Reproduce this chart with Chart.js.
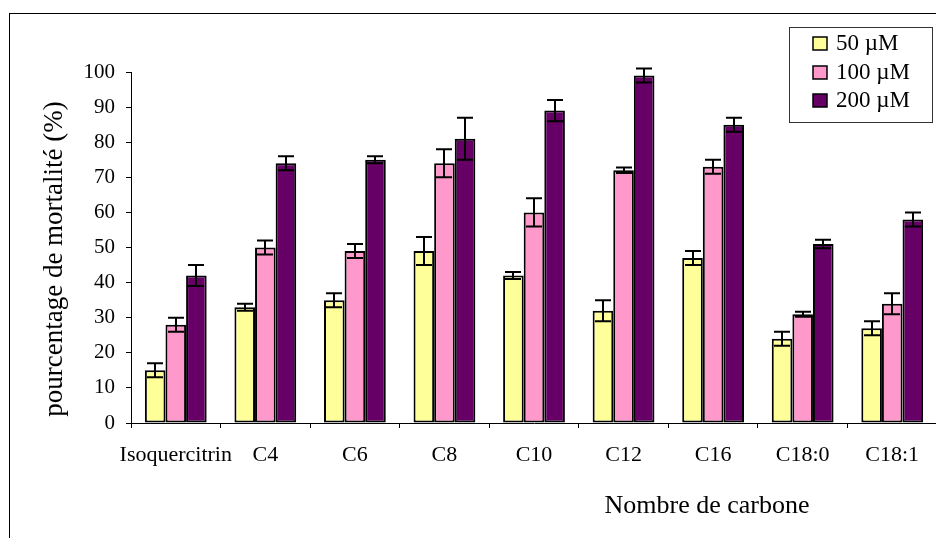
<!DOCTYPE html>
<html>
<head>
<meta charset="utf-8">
<script src="https://cdn.jsdelivr.net/npm/chart.js@4"></script>
<style>
html,body{margin:0;padding:0;background:#fff;overflow:hidden;}
#wrap{position:relative;width:938px;height:538px;}
canvas{display:block;}
</style>
</head>
<body>
<div id="wrap"><canvas id="c" width="938" height="538"></canvas></div>
<script>
const categories = ['Isoquercitrin','C4','C6','C8','C10','C12','C16','C18:0','C18:1'];
const seriesLabels = ['50 \u00B5M','100 \u00B5M','200 \u00B5M'];
const values50  = [15, 33, 35, 49, 42, 32, 47, 24, 27];
const values100 = [28, 50, 49, 74, 60, 72, 73, 31, 34];
const values200 = [42, 74, 75, 81, 89, 99, 85, 51, 58];
const err50  = [2, 1, 2, 4, 1, 3, 2, 2, 2];
const err100 = [2, 2, 2, 4, 4, 0.8, 2, 0.7, 3];
const err200 = [3, 2, 1, 6, 3, 2, 2, 1.2, 2];
const yTitle = 'pourcentage de mortalit\u00E9 (%)';
const xTitle = 'Nombre de carbone';

const FONT = '"Liberation Serif", "Times New Roman", serif';
const colors = ['#FFFF99', '#FF99CC', '#660066'];
const errs = [err50, err100, err200];

const errorBars = {
  id: 'errorBars',
  afterDatasetsDraw(chart) {
    const ctx = chart.ctx;
    const ys = chart.scales.y;
    ctx.save();
    ctx.strokeStyle = '#000';
    ctx.lineWidth = 2;
    chart.data.datasets.forEach((ds, i) => {
      const meta = chart.getDatasetMeta(i);
      meta.data.forEach((bar, j) => {
        const v = ds.data[j], e = errs[i][j];
        const x = Math.round(bar.x);
        const yt = ys.getPixelForValue(v + e);
        const yb = ys.getPixelForValue(v - e);
        const hw = 8;
        ctx.beginPath();
        ctx.moveTo(x, yt); ctx.lineTo(x, yb);
        ctx.moveTo(x - hw, yt); ctx.lineTo(x + hw, yt);
        ctx.moveTo(x - hw, yb); ctx.lineTo(x + hw, yb);
        ctx.stroke();
      });
    });
    ctx.restore();
  }
};

const decor = {
  id: 'decor',
  afterDraw(chart) {
    const ctx = chart.ctx;
    ctx.save();
    // outer frame
    ctx.strokeStyle = '#000';
    ctx.lineWidth = 1;
    ctx.strokeRect(9.5, 13.5, 1000, 1000);
    // axis titles
    ctx.fillStyle = '#000';
    ctx.font = '26px ' + FONT;
    ctx.textAlign = 'center';
    ctx.textBaseline = 'alphabetic';
    ctx.fillText(xTitle, 707, 513);
    ctx.save();
    ctx.font = '27px ' + FONT;
    ctx.translate(62, 259);
    ctx.rotate(-Math.PI / 2);
    ctx.fillText(yTitle, 0, 0);
    ctx.restore();
    // legend
    const lx = 789.5, ly = 27.5, lw = 143, lh = 95;
    ctx.fillStyle = '#fff';
    ctx.fillRect(lx, ly, lw, lh);
    ctx.strokeStyle = '#333';
    ctx.strokeRect(lx, ly, lw, lh);
    ctx.font = '23px ' + FONT;
    ctx.textAlign = 'left';
    ctx.textBaseline = 'middle';
    const rowY = [43, 72, 100];
    chart.data.datasets.forEach((ds, i) => {
      const cy = rowY[i];
      ctx.fillStyle = ds.backgroundColor;
      ctx.fillRect(813, cy - 6, 14, 13);
      ctx.strokeStyle = '#000';
      ctx.lineWidth = 1.5;
      ctx.strokeRect(813, cy - 6, 14, 13);
      ctx.fillStyle = '#000';
      ctx.fillText(ds.label, 836, cy + 1);
    });
    ctx.restore();
  }
};

new Chart(document.getElementById('c'), {
  type: 'bar',
  data: {
    labels: categories,
    datasets: [
      { label: seriesLabels[0], data: values50,  backgroundColor: colors[0] },
      { label: seriesLabels[1], data: values100, backgroundColor: colors[1] },
      { label: seriesLabels[2], data: values200, backgroundColor: colors[2] }
    ]
  },
  options: {
    responsive: false,
    animation: false,
    devicePixelRatio: 1,
    layout: { padding: { left: 0, top: 72, right: 1, bottom: 0 } },
    datasets: {
      bar: {
        borderColor: '#000',
        borderWidth: 2,
        borderSkipped: false,
        categoryPercentage: 0.69,
        barPercentage: 1.0
      }
    },
    plugins: {
      legend: { display: false },
      tooltip: { enabled: false }
    },
    scales: {
      x: {
        offset: true,
        grid: { display: true, drawOnChartArea: false, drawTicks: true, tickLength: 5, color: '#000', offset: true },
        border: { display: true, color: '#000', width: 1 },
        ticks: { color: '#000', font: { family: FONT, size: 22 }, padding: 14, maxRotation: 0, autoSkip: false },
        afterFit(scale) { scale.height = 115; }
      },
      y: {
        min: 0, max: 100,
        grid: { display: true, drawOnChartArea: false, drawTicks: true, tickLength: 5, color: '#000' },
        border: { display: true, color: '#000', width: 1 },
        ticks: { stepSize: 10, color: '#000', font: { family: FONT, size: 21 }, padding: 11 },
        afterFit(scale) { scale.width = 131; }
      }
    }
  },
  plugins: [errorBars, decor]
});
</script>
</body>
</html>
